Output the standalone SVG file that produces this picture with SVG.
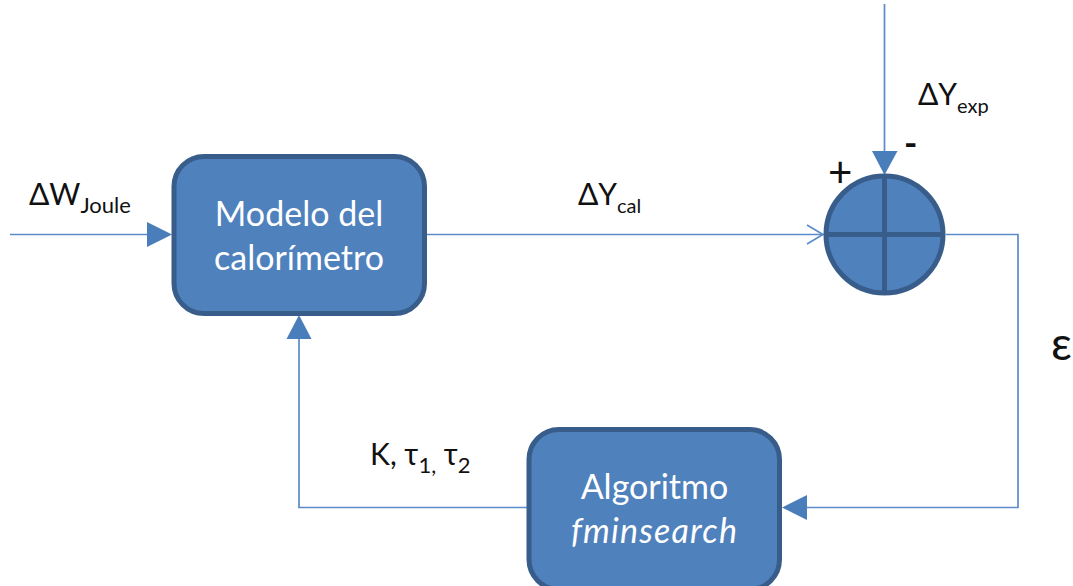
<svg xmlns="http://www.w3.org/2000/svg" width="1073" height="586" viewBox="0 0 1073 586">
<style>
.node{fill:#4f81bd;stroke:#385d8a;stroke-width:5}
.wire{fill:none;stroke:#5b8cc8;stroke-width:1.7}
.head{fill:#4a7ebb;stroke:none}
text{font-family:"Lato","Carlito","Open Sans",sans-serif}
.lbl{fill:#fff;font-size:34px;text-anchor:middle}
.t{fill:#111;font-size:30px}
.s{font-size:22px}
.s2{font-size:20px}
</style>
<rect width="1073" height="586" fill="#fff"/>
<g id="connectors">
<path class="wire" d="M10 234.500H148"/>
<path class="head" d="M147 222L172 234.500L147 247Z"/>
<path class="wire" d="M426 234.500H823"/>
<path class="wire" d="M807 225L823 234.500L807 244"/>
<path class="wire" d="M884.500 4V153"/>
<path class="head" d="M872 151H897.500L884.500 175Z"/>
<path class="wire" d="M946 234.500H1018V507.500H805"/>
<path class="head" d="M807 495V520L782 507.500Z"/>
<path class="wire" d="M527 507.500H299V338"/>
<path class="head" d="M286.500 339H311.500L299 315Z"/>
</g>
<g id="node-modelo">
<rect class="node" x="174" y="156.500" width="250.500" height="157" rx="30"/>
<text class="lbl" x="299" y="226">Modelo del</text>
<text class="lbl" x="299" y="270">calorímetro</text>
</g>
<g id="node-sumador">
<circle class="node" cx="884.500" cy="234.500" r="58.500"/>
<path d="M884.500 176V293M826 234.500H943" fill="none" stroke="#385d8a" stroke-width="5"/>
</g>
<g id="node-algoritmo">
<rect class="node" x="529" y="429.500" width="250.500" height="160" rx="30"/>
<text class="lbl" x="654.500" y="499">Algoritmo</text>
<text class="lbl" x="654.500" y="543" font-style="italic" letter-spacing="1.2">fminsearch</text>
</g>
<g id="labels">
<text class="t" x="29" y="205">ΔW<tspan class="s" dy="8">Joule</tspan></text>
<text class="t" x="578" y="205">ΔY<tspan class="s2" dy="8">cal</tspan></text>
<text class="t" x="918" y="105">ΔY<tspan class="s2" dy="8">exp</tspan></text>
<text class="t" x="370" y="465">K, τ<tspan class="s" dy="8">1,</tspan><tspan dy="-8"> τ</tspan><tspan class="s" dy="8">2</tspan></text>
<text x="828" y="187" style="font-size:42px;fill:#111">+</text>
<text x="904" y="156" style="font-size:36px;font-weight:700;fill:#111">-</text>
<text x="1051" y="360" style="font-size:46px;fill:#111">ε</text>
</g>
</svg>
